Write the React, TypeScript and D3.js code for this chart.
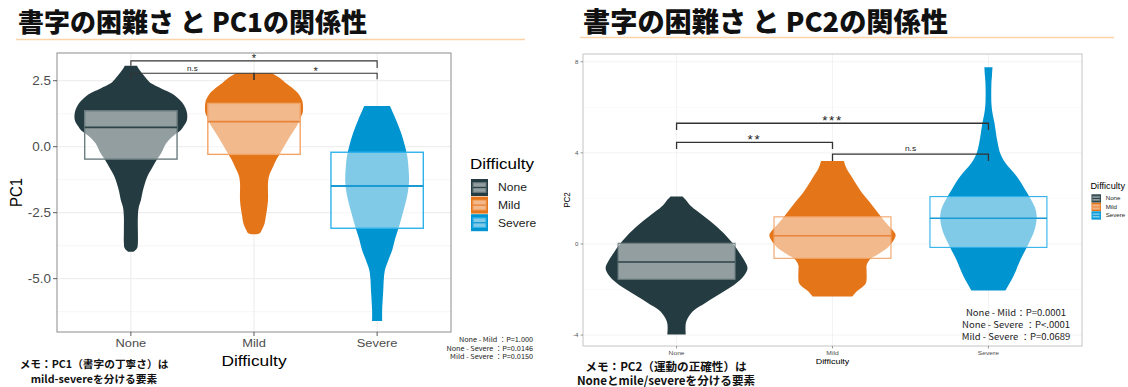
import React from "react";
import * as d3 from "d3";

// ---------- data ----------
const categories = ["None", "Mild", "Severe"];
const groupColors = ["#243c41", "#e47519", "#0094d0"];
const boxStrokeColors = ["#6c7d80", "#f2a366", "#2fb2ea"];
const medianColors = ["#2c4347", "#e8843a", "#1a9ad4"];

// PC1 (box statistics)
const pc1Q1 = [-0.47, -0.29, -3.09];
const pc1Median = [0.73, 0.95, -1.49];
const pc1Q3 = [1.36, 1.64, -0.21];
// PC1 violin profiles: [value, relative density]
const pc1ViolinNone: [number, number][] = [
  [3.07, 0.11], [2.95, 0.14], [2.75, 0.21], [2.55, 0.29], [2.4, 0.36], [2.2, 0.55], [2.02, 0.73],
  [1.8, 0.86], [1.6, 0.94], [1.3, 1.0], [1.0, 1.0], [0.8, 0.95], [0.6, 0.88], [0.4, 0.75],
  [0.13, 0.63], [-0.25, 0.54], [-0.5, 0.46], [-0.76, 0.39], [-1.1, 0.3], [-1.39, 0.25],
  [-1.7, 0.21], [-2.02, 0.18], [-2.3, 0.14], [-2.65, 0.125], [-3.2, 0.125], [-3.65, 0.125],
  [-3.85, 0.11], [-3.98, 0.05],
];
const pc1ViolinMild: [number, number][] = [
  [2.78, 0.32], [2.6, 0.46], [2.4, 0.57], [2.2, 0.7], [2.02, 0.79], [1.75, 0.86], [1.52, 0.875],
  [1.3, 0.87], [1.14, 0.84], [0.8, 0.77], [0.51, 0.68], [0.2, 0.59], [-0.13, 0.5], [-0.45, 0.41],
  [-0.76, 0.34], [-1.1, 0.27], [-1.39, 0.25], [-2.02, 0.25], [-2.4, 0.23], [-2.65, 0.21],
  [-2.9, 0.19], [-3.15, 0.14], [-3.27, 0.11], [-3.32, 0.04],
];
const pc1ViolinSevere: [number, number][] = [
  [1.54, 0.23], [1.0, 0.34], [0.51, 0.43], [0.0, 0.5], [-0.38, 0.54], [-0.8, 0.56], [-1.26, 0.57],
  [-1.7, 0.55], [-2.02, 0.52], [-2.5, 0.46], [-3.03, 0.39], [-3.5, 0.32], [-3.91, 0.27],
  [-4.3, 0.2], [-4.67, 0.14], [-5.0, 0.12], [-5.43, 0.11], [-6.19, 0.09], [-6.6, 0.09],
];
const pc1Ticks = [2.5, 0, -2.5, -5];
const pc1TickLabels = ["2.5", "0.0", "-2.5", "-5.0"];
const pc1MinorTicks = [1.25, -1.25, -3.75, -6.25];
const pc1Domain = [-7.02, 3.55];
const pc1BracketFrom = ["None", "None", "Mild"];
const pc1BracketTo = ["Severe", "Mild", "Severe"];
const pc1BracketY = [3.25, 2.78, 2.78];
const pc1BracketTipFrom = [3.07, 2.56, 2.53];
const pc1BracketTipTo = [2.98, 2.53, 2.56];
const pc1BracketLabels = ["*", "n.s", "*"];
const pc1PValues = ["None - Mild ：P=1.000", "None - Severe ：P=0.0146", "Mild - Severe ：P=0.0150"];
const pc1Memo = ["メモ：PC1（書字の丁寧さ）は", "mild-severeを分ける要素"];
const pc1Title = "書字の困難さ と PC1の関係性";

// PC2
const pc2Q1 = [-1.55, -0.63, -0.15];
const pc2Median = [-0.79, 0.36, 1.13];
const pc2Q3 = [0.03, 1.19, 2.08];
const pc2ViolinNone: [number, number][] = [
  [2.08, 0.085], [1.9, 0.14], [1.64, 0.21], [1.3, 0.35], [0.91, 0.51], [0.6, 0.62], [0.32, 0.71],
  [-0.05, 0.81], [-0.41, 0.89], [-0.75, 0.96], [-1.07, 1.0], [-1.4, 0.95], [-1.73, 0.84],
  [-2.0, 0.71], [-2.31, 0.55], [-2.6, 0.4], [-2.9, 0.25], [-3.2, 0.17], [-3.49, 0.13], [-3.97, 0.13],
];
const pc2ViolinMild: [number, number][] = [
  [3.64, 0.16], [3.3, 0.2], [2.95, 0.27], [2.6, 0.34], [2.23, 0.42], [1.85, 0.52], [1.49, 0.61],
  [0.91, 0.76], [0.6, 0.85], [0.39, 0.89], [0.15, 0.86], [-0.12, 0.79], [-0.4, 0.67], [-0.7, 0.52],
  [-0.95, 0.48], [-1.14, 0.48], [-1.73, 0.47], [-1.95, 0.4], [-2.09, 0.34], [-2.31, 0.28],
];
const pc2ViolinSevere: [number, number][] = [
  [7.76, 0.057], [7.4, 0.05], [7.06, 0.042], [6.18, 0.042], [5.75, 0.057], [5.31, 0.085],
  [4.43, 0.13], [3.95, 0.17], [3.55, 0.24], [2.96, 0.4], [2.37, 0.52], [1.64, 0.65], [1.2, 0.68],
  [0.61, 0.65], [0.03, 0.57], [-0.7, 0.45], [-1.43, 0.35], [-2.04, 0.24],
];
const pc2Ticks = [8, 4, 0, -4];
const pc2TickLabels = ["8", "4", "0", "-4"];
const pc2MinorTicks = [6, 2, -2];
const pc2Domain = [-4.48, 8.34];
const pc2BracketFrom = ["None", "None", "Mild"];
const pc2BracketTo = ["Severe", "Mild", "Severe"];
const pc2BracketY = [5.3, 4.46, 3.94];
const pc2BracketTipFrom = [5.0, 4.17, 3.64];
const pc2BracketTipTo = [5.0, 4.17, 3.64];
const pc2BracketLabels = ["***", "**", "n.s"];
const pc2PValues = ["None - Mild：P=0.0001", "None - Severe ：P<.0001", "Mild - Severe ：P=0.0689"];
const pc2Memo = ["メモ：PC2（運動の正確性）は", "Noneとmile/severeを分ける要素"];
const pc2Title = "書字の困難さ と PC2の関係性";

const axisTitleX = "Difficulty";
const legendTitle = "Difficulty";

// ---------- rendering ----------
const SANS = "'Liberation Sans', Arial, Helvetica, sans-serif";
const JP = "'Noto Sans CJK JP', 'Noto Sans', sans-serif";
const SX = 1.12; // horizontal stretch of the embedded plot images

function ST(props: any) {
  const { x, y, sx = SX, size, anchor = "start", fill = "#000", family = SANS, weight, rotate, children, spacing } = props;
  return (
    <text
      transform={`translate(${x},${y}) scale(${sx},1)${rotate ? ` rotate(${rotate})` : ""}`}
      fontSize={size}
      textAnchor={anchor}
      fill={fill}
      fontFamily={family}
      fontWeight={weight}
      letterSpacing={spacing}
    >
      {children}
    </text>
  );
}

function Chart(p: any) {
  const xS = d3.scalePoint<string>().domain(categories).range([p.left, p.right]).padding(0.6);
  const step = xS.step();
  const yS = d3.scaleLinear().domain(p.domain).range([p.bottom, p.top]);
  const wS = d3.scaleLinear().domain([0, 1]).range([0, step * 0.455]);
  const bw = step * 0.375;
  const area = (cx: number) =>
    d3
      .area<[number, number]>()
      .y((d) => yS(d[0]))
      .x0((d) => cx - wS(d[1]))
      .x1((d) => cx + wS(d[1]))
      .curve(d3.curveCatmullRom.alpha(0.5));

  return (
    <g>
      {/* grid */}
      {p.minor.map((t: number) => (
        <line key={"mi" + t} x1={p.left} x2={p.right} y1={yS(t)} y2={yS(t)} stroke="#f2f2f2" strokeWidth={p.gridW * 0.7} />
      ))}
      {p.ticks.map((t: number) => (
        <line key={"ma" + t} x1={p.left} x2={p.right} y1={yS(t)} y2={yS(t)} stroke="#ebebeb" strokeWidth={p.gridW} />
      ))}
      {categories.map((c) => (
        <line key={"vx" + c} x1={xS(c)} x2={xS(c)} y1={p.top} y2={p.bottom} stroke="#ebebeb" strokeWidth={p.gridW} />
      ))}
      {/* violins */}
      {categories.map((c, i) => (
        <path key={"v" + c} d={area(xS(c)!)(p.violins[i]) || ""} fill={groupColors[i]} />
      ))}
      {/* boxes */}
      {categories.map((c, i) => {
        const cx = xS(c)!;
        return (
          <g key={"b" + c}>
            <rect
              x={cx - bw}
              y={yS(p.q3[i])}
              width={bw * 2}
              height={yS(p.q1[i]) - yS(p.q3[i])}
              fill="#ffffff"
              fillOpacity={0.5}
              stroke={boxStrokeColors[i]}
              strokeWidth={p.boxW}
            />
            <line x1={cx - bw} x2={cx + bw} y1={yS(p.med[i])} y2={yS(p.med[i])} stroke={medianColors[i]} strokeWidth={p.boxW * 1.3} />
          </g>
        );
      })}
      {/* panel border */}
      <rect x={p.left} y={p.top} width={p.right - p.left} height={p.bottom - p.top} fill="none" stroke={p.borderColor} strokeWidth={p.borderW} />
      {/* brackets */}
      {p.bFrom.map((f: string, i: number) => {
        const x1 = xS(f)!;
        const x2 = xS(p.bTo[i])!;
        const yl = yS(p.bY[i]);
        const lbl = p.bLabels[i];
        const isStar = lbl.includes("*");
        const fs = isStar ? p.starSize : p.nsSize;
        const by = isStar ? yl - p.starGap + 0.58 * fs : yl - p.nsGap;
        return (
          <g key={"br" + i}>
            <path
              d={`M${x1},${yS(p.bTipFrom[i])}V${yl}H${x2}V${yS(p.bTipTo[i])}`}
              fill="none"
              stroke="#333"
              strokeWidth={p.bracketW}
            />
            <ST x={(x1 + x2) / 2} y={by} size={fs} anchor="middle" fill="#222" spacing={isStar ? p.starSpacing : undefined}>
              {lbl}
            </ST>
          </g>
        );
      })}
      {/* y axis */}
      {p.ticks.map((t: number, i: number) => (
        <g key={"yt" + t}>
          <line x1={p.left - p.tickLen} x2={p.left} y1={yS(t)} y2={yS(t)} stroke="#333" strokeWidth={p.gridW * 0.8} />
          <ST x={p.left - p.tickLen - 2} y={yS(t) + 0.36 * p.yTickSize} size={p.yTickSize} anchor="end" fill="#4d4d4d">
            {p.tickLabels[i]}
          </ST>
        </g>
      ))}
      {/* x axis */}
      {categories.map((c) => (
        <g key={"xt" + c}>
          <line x1={xS(c)} x2={xS(c)} y1={p.bottom} y2={p.bottom + p.tickLen} stroke="#333" strokeWidth={p.gridW * 0.8} />
          <ST x={xS(c)} y={p.xTickY} size={p.xTickSize} anchor="middle" fill="#4d4d4d">
            {c}
          </ST>
        </g>
      ))}
      <ST x={(p.left + p.right) / 2} y={p.xTitleY} size={p.xTitleSize} anchor="middle">
        {axisTitleX}
      </ST>
      <ST x={p.yTitleX} y={(p.top + p.bottom) / 2} size={p.yTitleSize} anchor="middle" rotate={-90}>
        {p.yTitle}
      </ST>
      {/* legend */}
      <ST x={p.legX} y={p.legTitleY} size={p.legTitleSize}>
        {legendTitle}
      </ST>
      {categories.map((c, i) => {
        const ky = p.legKeyY + i * p.legStep;
        const kw = p.legKeyW;
        const kh = p.legKeyH;
        return (
          <g key={"lg" + c}>
            <rect x={p.legX + 1} y={ky} width={kw} height={kh} fill={groupColors[i]} />
            <rect
              x={p.legX + 1 + kw * 0.12}
              y={ky + kh * 0.22}
              width={kw * 0.76}
              height={kh * 0.56}
              fill="#fff"
              fillOpacity={0.5}
              stroke={boxStrokeColors[i]}
              strokeWidth={p.boxW * 0.8}
            />
            <line
              x1={p.legX + 1 + kw * 0.12}
              x2={p.legX + 1 + kw * 0.88}
              y1={ky + kh / 2}
              y2={ky + kh / 2}
              stroke={medianColors[i]}
              strokeWidth={p.boxW}
            />
            <ST x={p.legLabelX} y={ky + kh / 2 + 0.36 * p.legLabelSize} size={p.legLabelSize} fill="#222">
              {c}
            </ST>
          </g>
        );
      })}
      {/* p values */}
      {p.pValues.map((t: string, i: number) => (
        <ST key={"pv" + i} x={p.pvX} y={p.pvY + i * p.pvStep} size={p.pvSize} anchor={p.pvAnchor} family={JP} fill="#222">
          {t}
        </ST>
      ))}
      {/* title */}
      <text x={p.titleX} y={p.titleY} fontSize={p.titleSize} fontFamily={JP} fontWeight={900} fill="#111">
        {p.title}
      </text>
      <line x1={p.ulX1} x2={p.ulX2} y1={p.ulY} y2={p.ulY} stroke="#fbd3a6" strokeWidth={1.5} />
      {/* memo */}
      {p.memo.map((t: string, i: number) => (
        <text
          key={"memo" + i}
          x={p.memoX}
          y={p.memoY + i * p.memoStep}
          fontSize={p.memoSize}
          fontFamily={JP}
          fontWeight={700}
          textAnchor="middle"
          fill="#111"
        >
          {t}
        </text>
      ))}
    </g>
  );
}

export default function App() {
  return (
    <div style={{ position: "fixed", left: 0, top: 0, width: 1128, height: 387, background: "#fff" }}>
      <svg width={1128} height={387} viewBox="0 0 1128 387" style={{ display: "block" }}>
        <rect width={1128} height={387} fill="#fff" />
        <Chart
          left={57}
          right={451}
          top={53}
          bottom={332}
          domain={pc1Domain}
          ticks={pc1Ticks}
          tickLabels={pc1TickLabels}
          minor={pc1MinorTicks}
          violins={[pc1ViolinNone, pc1ViolinMild, pc1ViolinSevere]}
          q1={pc1Q1}
          med={pc1Median}
          q3={pc1Q3}
          gridW={1}
          boxW={1.4}
          borderColor="#8c8c8c"
          borderW={1}
          bFrom={pc1BracketFrom}
          bTo={pc1BracketTo}
          bY={pc1BracketY}
          bTipFrom={pc1BracketTipFrom}
          bTipTo={pc1BracketTipTo}
          bLabels={pc1BracketLabels}
          starSize={10}
          starGap={4.3}
          starSpacing={0}
          nsSize={7.2}
          nsGap={2}
          bracketW={1.1}
          tickLen={4}
          yTickSize={12}
          xTickSize={11.5}
          xTickY={347.3}
          xTitleSize={15.5}
          xTitleY={365.5}
          yTitle="PC1"
          yTitleSize={15}
          yTitleX={22}
          legX={470}
          legTitleY={168.5}
          legTitleSize={15.2}
          legKeyY={179}
          legStep={17.6}
          legKeyW={17}
          legKeyH={17}
          legLabelX={498}
          legLabelSize={10.8}
          pValues={pc1PValues}
          pvX={533}
          pvY={342}
          pvStep={8.5}
          pvSize={6.5}
          pvAnchor="end"
          title={pc1Title}
          titleX={18}
          titleY={32}
          titleSize={26}
          ulX1={16}
          ulX2={525}
          ulY={39.5}
          memo={pc1Memo}
          memoX={94}
          memoY={368}
          memoStep={15}
          memoSize={10.7}
        />
        <Chart
          left={583}
          right={1082}
          top={54}
          bottom={346}
          domain={pc2Domain}
          ticks={pc2Ticks}
          tickLabels={pc2TickLabels}
          minor={pc2MinorTicks}
          violins={[pc2ViolinNone, pc2ViolinMild, pc2ViolinSevere]}
          q1={pc2Q1}
          med={pc2Median}
          q3={pc2Q3}
          gridW={0.6}
          boxW={1.1}
          borderColor="#c4c4c4"
          borderW={1}
          bFrom={pc2BracketFrom}
          bTo={pc2BracketTo}
          bY={pc2BracketY}
          bTipFrom={pc2BracketTipFrom}
          bTipTo={pc2BracketTipTo}
          bLabels={pc2BracketLabels}
          starSize={12}
          starGap={5}
          starSpacing={1.5}
          nsSize={7.5}
          nsGap={3.5}
          bracketW={1.3}
          tickLen={2.5}
          yTickSize={5.5}
          xTickSize={6}
          xTickY={354.8}
          xTitleSize={8}
          xTitleY={364}
          yTitle="PC2"
          yTitleSize={8}
          yTitleX={569.5}
          legX={1090.5}
          legTitleY={188.6}
          legTitleSize={8.2}
          legKeyY={194.3}
          legStep={8.5}
          legKeyW={9.5}
          legKeyH={8.3}
          legLabelX={1105.7}
          legLabelSize={5.5}
          pValues={pc2PValues}
          pvX={1016}
          pvY={315.7}
          pvStep={12.2}
          pvSize={8.5}
          pvAnchor="middle"
          title={pc2Title}
          titleX={583}
          titleY={32}
          titleSize={27.2}
          ulX1={580}
          ulX2={1114}
          ulY={37.5}
          memo={pc2Memo}
          memoX={666}
          memoY={371}
          memoStep={14}
          memoSize={11.6}
        />
      </svg>
    </div>
  );
}
